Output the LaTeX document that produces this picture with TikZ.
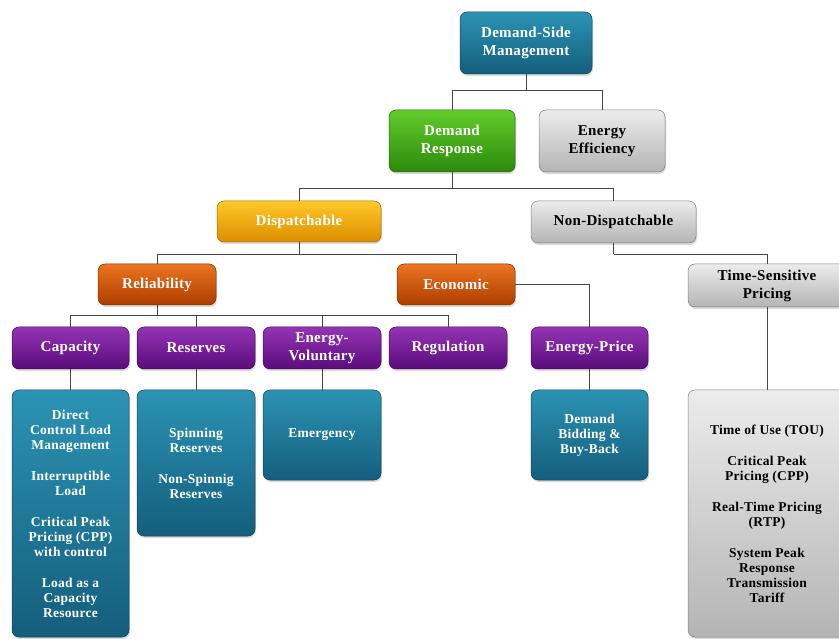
\documentclass[tikz,border=0pt]{standalone}
\usepackage{fontspec}
\setmainfont{Liberation Serif}
\usetikzlibrary{shadows}
\definecolor{tealtop}{HTML}{2C93B4}
\definecolor{tealbot}{HTML}{145E7C}
\definecolor{greentop}{HTML}{62CC2C}
\definecolor{greenbot}{HTML}{2C8A0C}
\definecolor{graytop}{HTML}{ECECEC}
\definecolor{graybot}{HTML}{B4B4B4}
\definecolor{yellowtop}{HTML}{FFC829}
\definecolor{yellowbot}{HTML}{DC8E00}
\definecolor{orangetop}{HTML}{EC7420}
\definecolor{orangebot}{HTML}{AE3E00}
\definecolor{purpletop}{HTML}{9434B4}
\definecolor{purplebot}{HTML}{5A0C7C}
\definecolor{linkgray}{HTML}{454545}
\begin{document}
\begin{tikzpicture}[x=1pt,y=-1pt,
    box/.style={rounded corners=7pt,draw=#1bot!70!black,line width=0.5pt,
      top color=#1top,bottom color=#1bot,align=center,inner sep=2pt,
      text=white,font=\bfseries\fontsize{15}{18}\selectfont\addfontfeature{LetterSpace=2},
      drop shadow={opacity=0.3,shadow xshift=1pt,shadow yshift=-2pt}},
    small/.style={font=\bfseries\fontsize{13.5}{15}\selectfont\addfontfeature{LetterSpace=2}},
    link/.style={draw=linkgray,line width=0.8pt}]
  \useasboundingbox (0,0) rectangle (839,639);
  % top levels
  \node[box=teal,minimum width=132,minimum height=62] (dsm) at (526,43) {Demand-Side\\Management};
  \node[box=green,minimum width=126,minimum height=62] (dr) at (452,141) {Demand\\Response};
  \node[box=gray,text=black,minimum width=126,minimum height=62] (ee) at (602,141) {Energy\\Efficiency};
  \node[box=yellow,minimum width=164,minimum height=41] (disp) at (299,221.5) {Dispatchable};
  \node[box=gray,text=black,minimum width=165,minimum height=42] (ndisp) at (613.5,222) {Non-Dispatchable};
  \node[box=orange,minimum width=118,minimum height=41] (rel) at (157,284.5) {Reliability};
  \node[box=orange,minimum width=118,minimum height=41] (eco) at (456,284.5) {Economic};
  \node[box=gray,text=black,minimum width=158,minimum height=43] (tsp) at (767,285.5) {Time-Sensitive\\Pricing};
  % programs
  \node[box=purple,minimum width=117,minimum height=42] (cap) at (70.5,348) {Capacity};
  \node[box=purple,minimum width=118,minimum height=42] (res) at (196,348) {Reserves};
  \node[box=purple,minimum width=118,minimum height=42] (ev) at (322,348) {Energy-\\Voluntary};
  \node[box=purple,minimum width=118,minimum height=42] (reg) at (448,348) {Regulation};
  \node[box=purple,minimum width=117,minimum height=42] (ep) at (589.5,348) {Energy-Price};
  % details
  \node[box=teal,small,minimum width=117,minimum height=247] (capd) at (70.5,513.5)
    {Direct\\Control Load\\Management\\[16pt]Interruptible\\Load\\[16pt]Critical Peak\\Pricing (CPP)\\with control\\[16pt]Load as a\\Capacity\\Resource};
  \node[box=teal,small,minimum width=118,minimum height=146] (resd) at (196,463)
    {Spinning\\Reserves\\[16pt]Non-Spinnig\\Reserves};
  \node[box=teal,small,minimum width=118,minimum height=90] (emer) at (322,435) {Emergency};
  \node[box=teal,small,minimum width=117,minimum height=90] (dbid) at (589.5,435) {Demand\\Bidding \&\\Buy-Back};
  \node[box=gray,small,text=black,minimum width=158,minimum height=247] (tspd) at (767,513.5)
    {Time of Use (TOU)\\[16pt]Critical Peak\\Pricing (CPP)\\[16pt]Real-Time Pricing\\(RTP)\\[16pt]System Peak\\Response\\Transmission\\Tariff};
  % connectors
  \path[link] (dsm.south) -- ++(0,16) coordinate (b1);
  \path[link] (b1) -| (dr.north) (b1) -| (ee.north);
  \path[link] (dr.south) -- ++(0,16) coordinate (b2);
  \path[link] (b2) -| (disp.north) (b2) -| (ndisp.north);
  \path[link] (disp.south) -- ++(0,12) coordinate (b3);
  \path[link] (b3) -| (rel.north) (b3) -| (eco.north);
  \path[link] (ndisp.south) -- ++(0,11) coordinate (b4);
  \path[link] (b4) -| (tsp.north);
  \path[link] (rel.south) -- ++(0,10) coordinate (b5);
  \path[link] (b5) -| (cap.north) (b5) -| (res.north)
    (b5) -| (ev.north) (b5) -| (reg.north);
  \path[link] (eco.east) -| (ep.north);
  \path[link]
    (cap) edge (capd)
    (res) edge (resd)
    (ev) edge (emer)
    (ep) edge (dbid)
    (tsp) edge (tspd);
\end{tikzpicture}
\end{document}
